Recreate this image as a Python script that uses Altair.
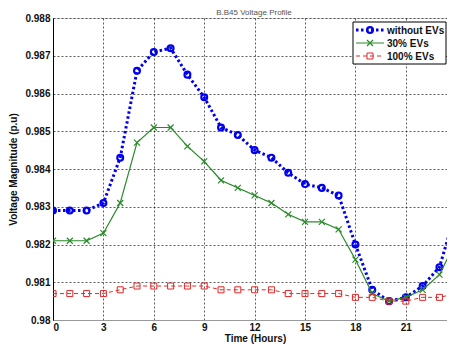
import altair as alt
import pandas as pd

hours = list(range(25))
series_names = ["without EVs", "30% EVs", "100% EVs"]
without_ev = [0.9829, 0.9829, 0.9829, 0.9831, 0.9843, 0.9866, 0.9871, 0.9872, 0.9865, 0.9859,
              0.9851, 0.9849, 0.9845, 0.9843, 0.9839, 0.9836, 0.9835, 0.9833, 0.9820, 0.9808,
              0.9805, 0.9806, 0.9809, 0.9814, 0.9829]
ev_30 = [0.9821, 0.9821, 0.9821, 0.9823, 0.9831, 0.9847, 0.9851, 0.9851, 0.9846, 0.9842,
         0.9837, 0.9835, 0.9833, 0.9831, 0.9828, 0.9826, 0.9826, 0.9824, 0.9816, 0.9807,
         0.9805, 0.9806, 0.9808, 0.9812, 0.9821]
ev_100 = [0.9807, 0.9807, 0.9807, 0.9807, 0.9808, 0.9809, 0.9809, 0.9809, 0.9809, 0.9809,
          0.9808, 0.9808, 0.9808, 0.9808, 0.9807, 0.9807, 0.9807, 0.9807, 0.9806, 0.9806,
          0.9805, 0.9805, 0.9806, 0.9806, 0.9807]
x_ticks = [0, 3, 6, 9, 12, 15, 18, 21, 24]
y_ticks = [0.980, 0.981, 0.982, 0.983, 0.984, 0.985, 0.986, 0.987, 0.988]
chart_title = "B.B45 Voltage Profile"

colors = ["#0000EE", "#2A8A2A", "#E02828"]
shapes = ["circle", "M-1,-1L1,1M-1,1L1,-1", "square"]
dashes = [[2.5, 2.5], [1, 0], [4, 3]]
widths = [3, 1.2, 1]
pt_widths = [2.2, 1.2, 1]
pt_sizes = [34, 36, 36]

W, H = 394, 302
FONT = "Liberation Sans"

# the reference image is cropped on the right, just before hour 24
xs = alt.Scale(domain=[0, 23.45], nice=False)
ys = alt.Scale(domain=[0.980, 0.988], nice=False)

x_axis = alt.Axis(values=x_ticks, title="Time (Hours)", grid=True, ticks=False,
                  labelFontSize=10, labelFontWeight="bold", labelFont=FONT,
                  titleFontSize=10, titleFontWeight="bold", titleFont=FONT,
                  labelPadding=2, titlePadding=1, domainColor="#999999",
                  gridColor="#000000", gridDash=[2, 2], gridWidth=0.8, gridOpacity=0.8,
                  labelColor="#111111", titleColor="#111111", titleX=202)
y_axis = alt.Axis(values=y_ticks, format=".3~f", title="Voltage Magnitude (p.u)", grid=True,
                  ticks=False, labelFontSize=10, labelFontWeight="bold", labelFont=FONT,
                  titleFontSize=10, titleFontWeight="bold", titleFont=FONT,
                  labelPadding=3, titlePadding=6, domainColor="#000000",
                  gridColor="#000000", gridDash=[2, 2], gridWidth=0.8, gridOpacity=0.8,
                  labelColor="#111111", titleColor="#111111")

layers = []
all_vals = [without_ev, ev_30, ev_100]
for i, name in enumerate(series_names):
    df = pd.DataFrame({"hour": hours, "v": all_vals[i], "series": name})
    base = alt.Chart(df).encode(
        x=alt.X("hour:Q", scale=xs, axis=x_axis),
        y=alt.Y("v:Q", scale=ys, axis=y_axis))
    line = base.mark_line(color=colors[i], strokeWidth=widths[i], strokeDash=dashes[i],
                          strokeCap="butt", clip=True)
    pts = base.mark_point(color=colors[i], shape=shapes[i], filled=False, size=pt_sizes[i],
                          strokeWidth=pt_widths[i], opacity=1, clip=True)
    layers += [line, pts]

one = alt.Data(values=[{}])
# title
extra = [alt.Chart(one).mark_text(
    text=chart_title, align="center", baseline="middle", font=FONT, fontSize=8,
    color="#555555").encode(x=alt.value(201), y=alt.value(-5.5))]
# legend box
extra.append(alt.Chart(one).mark_rect(fill="white", stroke="#000000", strokeWidth=1).encode(
    x=alt.value(300), x2=alt.value(393), y=alt.value(4), y2=alt.value(46)))
row_y = [12, 25, 38]
for i, name in enumerate(series_names):
    extra.append(alt.Chart(one).mark_rule(
        color=colors[i], strokeWidth=widths[i], strokeDash=dashes[i], strokeCap="butt").encode(
        x=alt.value(303), x2=alt.value(331), y=alt.value(row_y[i])))
    extra.append(alt.Chart(one).mark_point(
        color=colors[i], shape=shapes[i], filled=False, size=pt_sizes[i],
        strokeWidth=pt_widths[i], opacity=1).encode(
        x=alt.value(317), y=alt.value(row_y[i])))
    extra.append(alt.Chart(one).mark_text(
        text=name, align="left", baseline="middle", font=FONT, fontSize=10,
        fontWeight="bold", color="#111111").encode(
        x=alt.value(334), y=alt.value(row_y[i] + 0.5)))

chart = alt.layer(*layers, *extra).properties(
    width=W, height=H,
    autosize=alt.AutoSizeParams(type="none"),
    padding={"left": 45, "top": 10, "right": 0, "bottom": 25},
).configure_view(stroke="#333333", strokeWidth=1).configure(background="white")

chart.save("out.html", embed_options={"renderer": "svg", "actions": False})
